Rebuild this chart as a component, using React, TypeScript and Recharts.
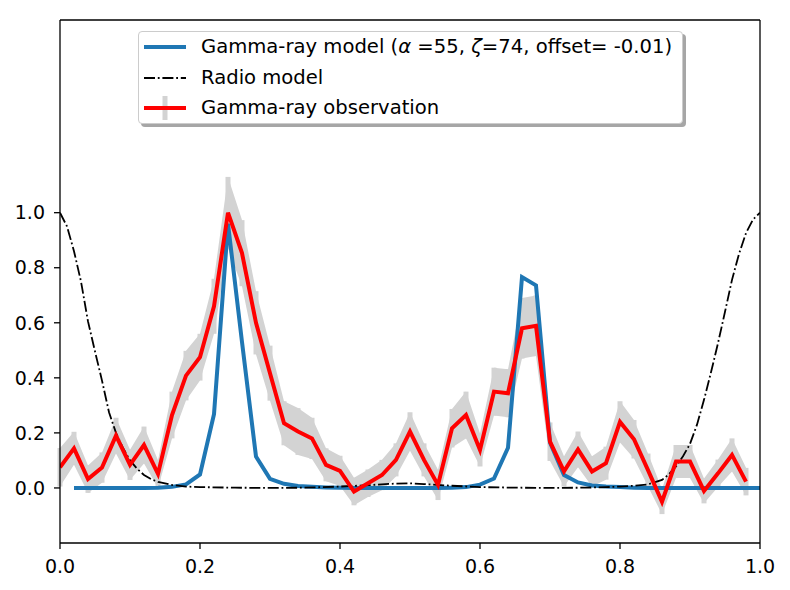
import React from 'react';
import { ComposedChart, Line, Area, XAxis, YAxis, ErrorBar, Legend, ReferenceLine } from 'recharts';

// observed gamma-ray light curve
const obsPhase = [
  0.00, 0.02, 0.04, 0.06, 0.08, 0.10, 0.12, 0.14, 0.16, 0.18,
  0.20, 0.22, 0.24, 0.26, 0.28, 0.30, 0.32, 0.34, 0.36, 0.38,
  0.40, 0.42, 0.44, 0.46, 0.48, 0.50, 0.52, 0.54, 0.56, 0.58,
  0.60, 0.62, 0.64, 0.66, 0.68, 0.70, 0.72, 0.74, 0.76, 0.78,
  0.80, 0.82, 0.84, 0.86, 0.88, 0.90, 0.92, 0.94, 0.96, 0.98,
];
const obsFlux = [
  0.075, 0.144, 0.032, 0.074, 0.19, 0.084, 0.156, 0.051, 0.265, 0.408,
  0.475, 0.66, 1.0, 0.853, 0.6, 0.417, 0.235, 0.205, 0.18, 0.084,
  0.062, -0.013, 0.017, 0.047, 0.102, 0.205, 0.102, 0.011, 0.217, 0.265,
  0.138, 0.35, 0.344, 0.58, 0.589, 0.168, 0.06, 0.14, 0.06, 0.09,
  0.24, 0.177, 0.065, -0.05, 0.096, 0.096, -0.011, 0.053, 0.12, 0.023,
];
const obsErr = [
  0.07, 0.06, 0.05, 0.055, 0.065, 0.055, 0.067, 0.05, 0.085, 0.09,
  0.085, 0.1, 0.13, 0.12, 0.115, 0.1, 0.08, 0.085, 0.075, 0.06,
  0.055, 0.05, 0.05, 0.055, 0.06, 0.07, 0.06, 0.055, 0.07, 0.085,
  0.06, 0.087, 0.087, 0.11, 0.11, 0.07, 0.055, 0.065, 0.055, 0.06,
  0.075, 0.07, 0.06, 0.045, 0.06, 0.06, 0.045, 0.05, 0.06, 0.05,
];

// gamma-ray model
const modelPhase = [
  0.02, 0.04, 0.06, 0.08, 0.10, 0.12, 0.14, 0.16, 0.18, 0.20,
  0.22, 0.24, 0.26, 0.28, 0.30, 0.32, 0.34, 0.36, 0.38, 0.40,
  0.42, 0.44, 0.46, 0.48, 0.50, 0.52, 0.54, 0.56, 0.58, 0.60,
  0.62, 0.64, 0.66, 0.68, 0.70, 0.72, 0.74, 0.76, 0.78, 0.80,
  0.82, 0.84, 0.86, 0.88, 0.90, 0.92, 0.94, 0.96, 0.98, 1.00,
];
const modelFlux = [
  0, 0, 0, 0, 0, 0, 0.001, 0.004, 0.013, 0.049,
  0.268, 0.96, 0.53, 0.114, 0.033, 0.015, 0.007, 0.004, 0.002, 0.001,
  0, 0, 0, 0, 0, 0, 0, 0.001, 0.003, 0.012,
  0.034, 0.146, 0.766, 0.736, 0.165, 0.047, 0.02, 0.009, 0.005, 0.003,
  0.001, 0, 0, 0, 0, 0, 0, 0, 0, 0,
];

// radio model
const radioPhase = [
  0.00, 0.01, 0.02, 0.03, 0.04, 0.05, 0.06, 0.07, 0.08, 0.09,
  0.10, 0.11, 0.12, 0.13, 0.14, 0.16, 0.18, 0.20, 0.25, 0.30,
  0.35, 0.40, 0.44, 0.48, 0.50, 0.52, 0.56, 0.60, 0.65, 0.70,
  0.75, 0.78, 0.80, 0.82, 0.84, 0.86, 0.87, 0.88, 0.89, 0.90,
  0.91, 0.92, 0.93, 0.94, 0.95, 0.96, 0.97, 0.98, 0.99, 1.00,
];
const radioFlux = [
  1.0, 0.95, 0.86, 0.75, 0.605, 0.496, 0.39, 0.275, 0.2, 0.145,
  0.1, 0.07, 0.047, 0.032, 0.022, 0.011, 0.005, 0.003, 0.001, 0.0,
  0.001, 0.005, 0.01, 0.016, 0.017, 0.014, 0.008, 0.003, 0.001, 0.0,
  0.001, 0.003, 0.005, 0.008, 0.013, 0.029, 0.05, 0.078, 0.115, 0.16,
  0.23, 0.32, 0.42, 0.526, 0.64, 0.756, 0.85, 0.926, 0.975, 1.0,
];

const xTicks = [0, 0.2, 0.4, 0.6, 0.8, 1.0];
const yTicks = [0, 0.2, 0.4, 0.6, 0.8, 1.0];
const xRange = [0, 1];
const yRange = [-0.2, 1.7];

const legendItems = ['model', 'radio', 'obs'];

const obsData = obsPhase.map((x, i) => ({
  x,
  y: obsFlux[i],
  err: obsErr[i],
  band: [obsFlux[i] - obsErr[i], obsFlux[i] + obsErr[i]],
}));
const modelData = modelPhase.map((x, i) => ({ x, y: modelFlux[i] }));
const radioData = radioPhase.map((x, i) => ({ x, y: radioFlux[i] }));

const FONT = 'DejaVu Sans';
const tickStyle = { fill: '#000', fontSize: 19, fontFamily: FONT };
const DASHDOT = '11 2.8 1.8 2.8';

const Handle = ({ kind }: { kind: string }) => (
  <svg width={42} height={24} style={{ display: 'block' }}>
    {kind === 'model' && <line x1={0} y1={12} x2={42} y2={12} stroke="#1f77b4" strokeWidth={4} />}
    {kind === 'radio' && (
      <line x1={0} y1={12} x2={42} y2={12} stroke="#000" strokeWidth={1.8} strokeDasharray={DASHDOT} />
    )}
    {kind === 'obs' && (
      <g>
        <line x1={21} y1={0} x2={21} y2={24} stroke="#d3d3d3" strokeWidth={5} />
        <line x1={0} y1={12} x2={42} y2={12} stroke="#ff0000" strokeWidth={4} />
      </g>
    )}
  </svg>
);

const labelFor = (kind: string) => {
  if (kind === 'model')
    return (
      <span>
        Gamma-ray model (<i>α</i> =55, <i>ζ</i>=74, offset= -0.01)
      </span>
    );
  if (kind === 'radio') return <span>Radio model</span>;
  return <span>Gamma-ray observation</span>;
};

const LegendBox = () => (
  <div
    style={{
      position: 'relative',
      width: 545,
      height: 93,
      boxSizing: 'border-box',
      border: '1px solid #cccccc',
      borderRadius: 4,
      background: '#fff',
      boxShadow: '3px 3px 0 #a6a6a6',
      fontFamily: FONT,
      fontSize: 19.6,
      color: '#000',
    }}
  >
    {legendItems.map((kind, i) => (
      <div
        key={kind}
        style={{ position: 'absolute', left: 5, top: 3 + i * 30.5, height: 24, display: 'flex', alignItems: 'center' }}
      >
        <Handle kind={kind} />
        <div style={{ marginLeft: 15, lineHeight: '24px', whiteSpace: 'nowrap' }}>{labelFor(kind)}</div>
      </div>
    ))}
  </div>
);

const App = () => (
  <div style={{ position: 'absolute', left: 0, top: 0, width: 790, height: 590, background: '#fff' }}>
    <ComposedChart width={790} height={590} margin={{ top: 20, right: 30, bottom: 0, left: 0 }}>
      <XAxis
        dataKey="x"
        type="number"
        domain={xRange}
        ticks={xTicks}
        allowDataOverflow
        tickFormatter={(v: number) => v.toFixed(1)}
        tick={tickStyle}
        tickSize={6}
        tickMargin={11}
        height={47}
        axisLine={{ stroke: '#000', strokeWidth: 1.3 }}
        tickLine={{ stroke: '#000', strokeWidth: 1.3 }}
      />
      <YAxis
        type="number"
        domain={yRange}
        ticks={yTicks}
        allowDataOverflow
        tickFormatter={(v: number) => v.toFixed(1)}
        tick={tickStyle}
        tickSize={6}
        tickMargin={9}
        width={60}
        axisLine={{ stroke: '#000', strokeWidth: 1.3 }}
        tickLine={{ stroke: '#000', strokeWidth: 1.3 }}
      />
      <Area
        data={obsData}
        dataKey="band"
        type="linear"
        stroke="none"
        fill="#d3d3d3"
        fillOpacity={1}
        isAnimationActive={false}
        legendType="none"
      />
      <Line
        data={obsData}
        dataKey="y"
        stroke="none"
        strokeWidth={0}
        dot={false}
        isAnimationActive={false}
        legendType="none"
      >
        <ErrorBar dataKey="err" direction="y" width={0} strokeWidth={5} stroke="#d3d3d3" isAnimationActive={false} />
      </Line>
      <Line
        data={modelData}
        dataKey="y"
        type="linear"
        stroke="#1f77b4"
        strokeWidth={4}
        dot={false}
        isAnimationActive={false}
      />
      <Line
        data={radioData}
        dataKey="y"
        type="linear"
        stroke="#000"
        strokeWidth={1.8}
        strokeDasharray={DASHDOT}
        dot={false}
        isAnimationActive={false}
      />
      <Line
        data={obsData}
        dataKey="y"
        type="linear"
        stroke="#ff0000"
        strokeWidth={4}
        dot={false}
        isAnimationActive={false}
      />
      {/* top and right spines */}
      <ReferenceLine y={yRange[1]} stroke="#000" strokeWidth={1.3} ifOverflow="visible" />
      <ReferenceLine x={xRange[1]} stroke="#000" strokeWidth={1.3} ifOverflow="visible" />
      <Legend
        layout="vertical"
        align="center"
        verticalAlign="middle"
        content={() => <LegendBox />}
        wrapperStyle={{ position: 'absolute', left: 138, top: 31, width: 545, height: 93 }}
      />
    </ComposedChart>
  </div>
);

export default App;
